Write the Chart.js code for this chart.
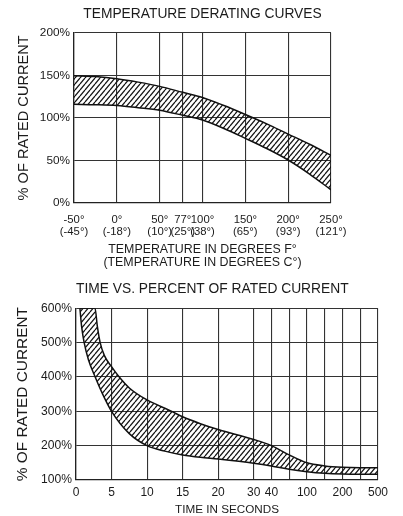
<!DOCTYPE html>
<html>
<head>
<meta charset="utf-8">
<script src="https://cdn.jsdelivr.net/npm/chart.js@4.4.1/dist/chart.umd.min.js"></script>
<style>
  html, body { margin: 0; padding: 0; background: #fff; overflow: hidden; }
  canvas { position: absolute; left: 0; }
  #temp { top: 0; }
  #time { top: 270px; }
</style>
</head>
<body>
<canvas id="temp" width="403" height="270"></canvas>
<canvas id="time" width="403" height="246"></canvas>
<script>
// --- temperature derating (x in degrees F) ---
const tempF     = [-50, -25, 0, 25, 50, 77, 100, 125, 150, 175, 200, 225, 250];
const tempUpper = [149.5, 148.5, 146, 142, 137, 130, 124, 114.5, 104, 93, 81, 69, 56];
const tempLower = [116, 115.5, 114.5, 112, 109, 103, 97.5, 87.5, 76, 64, 50.5, 34, 15.5];
const tempTicks   = [-50, 0, 50, 77, 100, 150, 200, 250];
const tempLabelsF = ['-50°', '0°', '50°', '77°', '100°', '150°', '200°', '250°'];
const tempLabelsC = ['(-45°)', '(-18°)', '(10°)', '(25°)', '(38°)', '(65°)', '(93°)', '(121°)'];

// --- time vs current (x = position of the grid line, axis is not to scale) ---
const timeTicks  = [0, 1, 2, 3, 4, 5, 5.5, 6, 6.5, 7, 7.5, 8, 8.5];
const timeLabels = ['0', '5', '10', '15', '20', '30', '40', '', '100', '', '200', '', '500'];
const outerPos = [0.11, 0.535, 0.6, 0.68, 0.8, 1.0, 1.2, 1.5, 2.0, 2.65, 3.0, 3.5, 4.0, 5.0, 5.5, 6.0, 6.5, 7.0, 7.5, 8.0, 8.5];
const outerPct = [600, 600, 548, 500, 462, 430, 402, 368, 333, 302, 284, 264, 247, 218, 200, 173, 150, 141, 137, 136, 136];
const innerPos = [0.11, 0.16, 0.23, 0.35, 0.54, 0.75, 1.0, 1.5, 2.0, 2.5, 3.0, 3.5, 4.0, 5.0, 5.5, 6.0, 6.5, 7.0, 7.5, 8.0, 8.5];
const innerPct = [600, 545, 500, 450, 400, 350, 300, 235, 200, 184, 173, 166, 161, 149, 141, 131, 124, 119.5, 117.5, 117, 117];

const INK = '#1b1b1b';
const FONT = '"Liberation Sans", Arial, Helvetica, sans-serif';

function hatch() {
  const c = document.createElement('canvas');
  c.width = 5; c.height = 6;
  const g = c.getContext('2d');
  g.strokeStyle = '#111';
  g.lineWidth = 1.25;
  for (let k = -1; k <= 1; k++) {
    g.beginPath();
    g.moveTo(k * 5, 6);
    g.lineTo(k * 5 + 5, 0);
    g.stroke();
  }
  return g.createPattern(c, 'repeat');
}

const pts = (xs, ys) => xs.map((x, i) => ({ x, y: ys[i] }));

const grid = { color: '#333', lineWidth: 1.1, drawTicks: false };
const border = { color: '#222', width: 1.3 };

function curve(data, fill) {
  return {
    data, fill,
    backgroundColor: hatch(),
    borderColor: '#111',
    borderWidth: 1.5,
    pointRadius: 0,
    cubicInterpolationMode: 'monotone'
  };
}

function titleOpts(text, size, align, top, bottom) {
  return {
    display: true, text, align, fullSize: false, color: INK,
    font: { family: FONT, size, weight: 'normal', lineHeight: 1.2 },
    padding: { top, bottom }
  };
}

function baseOptions(title, right) {
  return {
    responsive: false,
    animation: false,
    events: [],
    layout: { padding: { left: 0, right, top: 0, bottom: 0 } },
    plugins: { legend: { display: false }, tooltip: { enabled: false }, title }
  };
}

// top chart
new Chart(document.getElementById('temp'), {
  type: 'line',
  data: { datasets: [curve(pts(tempF, tempUpper), '+1'), curve(pts(tempF, tempLower), false)] },
  options: {
    ...baseOptions(titleOpts('TEMPERATURE DERATING CURVES', 13.8, 'center', 6.4, 9.8), 72),
    scales: {
      x: {
        type: 'linear', min: -50, max: 250,
        afterBuildTicks: (s) => { s.ticks = tempTicks.map((value) => ({ value })); },
        afterFit: (s) => { s.height = 67; },
        grid, border,
        ticks: {
          color: INK, padding: 11.5, maxRotation: 0, autoSkip: false,
          font: { family: FONT, size: 11.3, lineHeight: 1.0 },
          callback: (v, i) => [tempLabelsF[i], tempLabelsC[i]]
        },
        title: {
          display: true, color: INK,
          text: ['TEMPERATURE IN DEGREES F°', '(TEMPERATURE IN DEGREES C°)'],
          font: { family: FONT, size: 12.4, lineHeight: 1.09 },
          padding: { top: 0, bottom: 0.3 }
        }
      },
      y: {
        min: 0, max: 200,
        afterFit: (s) => { s.width = 74; },
        grid, border,
        ticks: {
          stepSize: 50, padding: 4, color: INK,
          font: { family: FONT, size: 11.8 },
          callback: (v) => v + '%'
        },
        title: {
          display: true, text: '% OF RATED CURRENT', color: INK,
          font: { family: FONT, size: 14.6, lineHeight: 1.2 },
          padding: { top: 15.2, bottom: 0 }
        }
      }
    }
  }
});

// bottom chart
new Chart(document.getElementById('time'), {
  type: 'line',
  data: { datasets: [curve(pts(outerPos, outerPct), '+1'), curve(pts(innerPos, innerPct), false)] },
  options: {
    ...baseOptions(titleOpts('TIME VS. PERCENT OF RATED CURRENT', 13.8, 'start', 10.7, 11), 25),
    scales: {
      x: {
        type: 'linear', min: 0, max: 8.5,
        afterBuildTicks: (s) => { s.ticks = timeTicks.map((value) => ({ value })); },
        afterFit: (s) => { s.height = 36; },
        grid, border,
        ticks: {
          color: INK, padding: 5.8, maxRotation: 0, autoSkip: false,
          font: { family: FONT, size: 12 },
          callback: (v, i) => timeLabels[i]
        },
        title: {
          display: true, text: 'TIME IN SECONDS', color: INK,
          font: { family: FONT, size: 11.7, lineHeight: 1 },
          padding: { top: 0, bottom: 0 }
        }
      },
      y: {
        min: 100, max: 600,
        afterFit: (s) => { s.width = 76; },
        grid, border,
        ticks: {
          stepSize: 100, padding: 4, color: INK,
          font: { family: FONT, size: 12.1 },
          callback: (v) => v + '%'
        },
        title: {
          display: true, text: '% OF RATED CURRENT', color: INK,
          font: { family: FONT, size: 15.4, lineHeight: 1.2 },
          padding: { top: 13.8, bottom: 0 }
        }
      }
    }
  }
});
</script>
</body>
</html>
